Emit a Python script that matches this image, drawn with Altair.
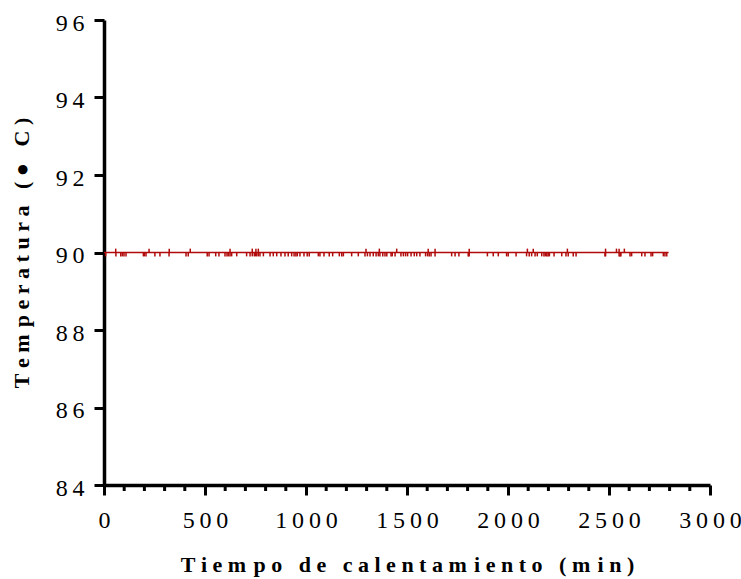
import altair as alt
import pandas as pd

# Baseline of the temperature record (min, °C)
line_time = [0, 2795]
line_temp = [90.0, 90.0]

# Minutes where the reading dips to 89.9 °C
down_times = [8, 59, 83, 91, 99, 109, 195, 200, 208, 252, 277, 322, 406, 417,
              511, 520, 553, 569, 599, 609, 616, 624, 632, 657, 706, 723, 734, 744, 750,
              756, 764, 772, 789, 822, 838, 855, 876, 896, 912, 929, 941,
              950, 957, 970, 990, 1006, 1016, 1061, 1069, 1089, 1115, 1132, 1165, 1177,
              1185, 1226, 1259, 1292, 1304, 1317, 1333, 1347, 1358, 1366, 1380, 1391, 1400,
              1421, 1427, 1441, 1470, 1482, 1493, 1503, 1520, 1536, 1548, 1564, 1592, 1602,
              1610, 1619, 1639, 1721, 1738, 1757, 1803, 1808,
              1898, 1927, 1952, 1993, 2001, 2040, 2092, 2105, 2117, 2134, 2145, 2167, 2178,
              2185, 2192, 2199, 2205, 2228, 2266, 2287, 2298, 2323, 2337,
              2480, 2483, 2550, 2555, 2559, 2604, 2612, 2662, 2678, 2708, 2716, 2769, 2777, 2786]
down_value = 89.9

# Minutes where the reading rises to 90.1 °C
up_times = [58, 223, 323, 427, 624, 734, 752, 764, 1297, 1363, 1449, 1605, 1639, 1808,
            2096, 2125, 2294, 2483, 2537, 2550, 2576]
up_value = 90.1

x_ticks = [0, 500, 1000, 1500, 2000, 2500, 3000]
x_minor = [100, 200, 300, 400, 600, 700, 800, 900, 1100, 1200, 1300, 1400,
           1600, 1700, 1800, 1900, 2100, 2200, 2300, 2400, 2600, 2700, 2800, 2900]
y_ticks = [84, 86, 88, 90, 92, 94, 96]

x_title = "Tiempo de calentamiento (min)"
y_title = "Temperatura (\u25cf C)"

LABEL_SP = "\u2009"
TITLE_SP = "\u2005"


def spaced(s):
    out = []
    for i, ch in enumerate(s):
        out.append(ch)
        if i < len(s) - 1:
            out.append(TITLE_SP)
            if ch == "m":
                out.append("\u200a")
    return "".join(out)


FONT = "Liberation Serif"
RED = "#b00a0a"

line_df = pd.DataFrame({"t": line_time, "temp": line_temp})
spike_df = pd.DataFrame({
    "t": down_times + up_times,
    "temp": [down_value for _ in down_times] + [up_value for _ in up_times],
    "base": [90.0 for _ in down_times + up_times],
})
minor_df = pd.DataFrame({"t": x_minor})

label_expr = "join(split(datum.label, ''), '" + LABEL_SP + "')"

x_scale = alt.Scale(domain=[0, 3000], nice=False, zero=False)
y_scale = alt.Scale(domain=[84, 96], nice=False, zero=False)

x_axis = alt.Axis(values=x_ticks, format="d", labelExpr=label_expr, grid=False,
                  tickSize=10, tickWidth=3, domainWidth=3.5, domainColor="black",
                  tickColor="black", labelFont=FONT, labelFontSize=24, labelColor="black",
                  labelPadding=13, labelFlush=False, title=spaced(x_title), titleFont=FONT,
                  titleFontSize=22, titleFontWeight="bold", titleColor="black",
                  titlePadding=22)
y_axis = alt.Axis(values=y_ticks, format="d", labelExpr=label_expr, grid=False,
                  tickSize=10, tickWidth=3, domainWidth=3.5, domainColor="black",
                  tickColor="black", labelFont=FONT, labelFontSize=24, labelColor="black",
                  labelPadding=10, labelOffset=3, labelFlush=False,
                  title=spaced(y_title), titleFont=FONT, titleFontSize=22,
                  titleFontWeight="bold", titleColor="black", titlePadding=22)

line = alt.Chart(line_df).mark_line(color=RED, strokeWidth=1.5).encode(
    x=alt.X("t:Q", scale=x_scale, axis=x_axis),
    y=alt.Y("temp:Q", scale=y_scale, axis=y_axis),
)

spikes = alt.Chart(spike_df).mark_rule(color=RED, strokeWidth=1.5).encode(
    x=alt.X("t:Q", scale=x_scale),
    y=alt.Y("base:Q", scale=y_scale),
    y2="temp:Q",
)

minor = alt.Chart(minor_df).mark_rule(color="black", strokeWidth=3, clip=False).encode(
    x=alt.X("t:Q", scale=x_scale),
    y=alt.value(465),
    y2=alt.value(471),
)

chart = alt.layer(line, spikes, minor).properties(
    width=606, height=465,
    autosize=alt.AutoSizeParams(type="none"),
    padding={"left": 104, "top": 20, "right": 31, "bottom": 94},
    background="white",
).configure_view(strokeWidth=0)

chart.save("out.html", embed_options={"renderer": "svg", "actions": False})
